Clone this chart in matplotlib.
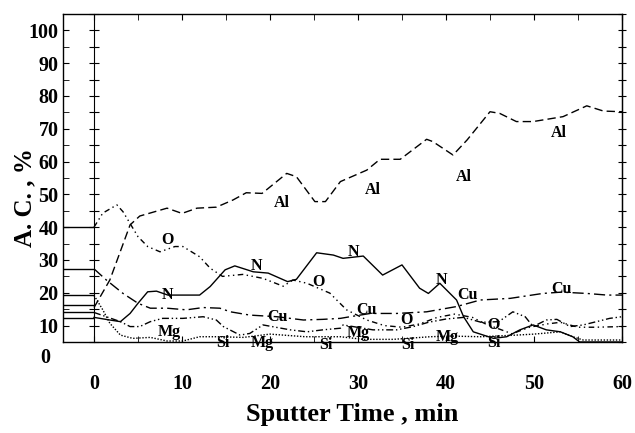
import matplotlib
matplotlib.use("Agg")
import matplotlib.pyplot as plt
from matplotlib.ticker import MultipleLocator

# depth profile, atomic concentration (%) vs sputter time (min)
al_t = [0, 1.8, 4.1, 5.2, 8.3, 10, 11.7, 13.9, 15.8, 17.3, 19.1, 21.9, 23,
        25.1, 26.3, 28, 31, 32.5, 34.8, 37.8, 38.5, 40.8, 42.4, 45, 46.1,
        48, 49.9, 53.3, 56, 57.9, 60]
al_v = [15.5, 23.9, 40.7, 43.4, 45.8, 44.2, 45.8, 46.1, 48.3, 50.5, 50.3,
        56.4, 55.4, 47.8, 47.8, 53.9, 57.4, 60.7, 60.7, 66.8, 66.1, 62,
        66.6, 75.2, 74.7, 72.2, 72.2, 73.7, 77, 75.4, 75.2]

o_t = [0, 1, 2.6, 3.3, 5, 6.1, 7.5, 9.2, 10.1, 12, 13.2, 14.6, 16.9, 19.2,
       21.5, 22.6, 24.2, 26.8, 28.7, 31, 33, 35, 37, 39, 41, 43, 44.5, 46,
       47.5, 49.5, 51.5, 53, 55, 57, 60]
o_v = [40, 44.3, 46.8, 44.7, 37.1, 34.1, 32.5, 34.1, 34.1, 31, 27.5, 25,
       25.6, 24.4, 22, 23.9, 22.9, 19.9, 14.8, 11.7, 10, 9.5, 10.5, 12.5,
       13.5, 12.5, 10.5, 9, 7.5, 9.5, 10.5, 11, 9.5, 9.5, 9.7]

n_t = [0, 1.8, 3, 4.1, 5, 6.1, 7.1, 8.4, 10.1, 12, 13.2, 14.9, 16, 18.1,
       19.8, 22, 23, 25.3, 27.2, 28.3, 30.6, 32.8, 35, 37, 38, 39.3, 41.2,
       42, 43.1, 45.4, 46.9, 48.4, 49.9, 51.4, 53, 54.4, 55.2, 60]
n_v = [12.5, 11.7, 11.2, 13.7, 16.8, 20.3, 20.5, 19.3, 19.3, 19.3, 21.9,
       27, 28.2, 26.4, 26, 23.4, 24.1, 32.2, 31.5, 30.5, 31.2, 25.4, 28.5,
       21.4, 19.8, 22.9, 17.8, 12.7, 8.1, 6.1, 6.6, 8.7, 10.2, 8.7, 8.1,
       6.6, 5, 5]

cu_t = [0, 1.4, 3.3, 5, 6.4, 8.3, 10.5, 12.4, 14.3, 15.5, 17.7, 20.8,
        23.8, 26, 28, 29.1, 31.4, 34.4, 37.8, 41.2, 43.9, 47.3, 51, 53.1,
        56, 58.3, 60]
cu_v = [27.3, 23.9, 19.8, 16.8, 15.3, 15.3, 14.8, 15.5, 15.3, 14.2, 13.2,
        12.7, 11.7, 11.9, 12.2, 12.7, 13.7, 13.7, 14.2, 15.8, 17.8, 18.3,
        19.8, 20.2, 19.8, 19.3, 19.3]

mg_t = [0, 1.4, 3, 4.1, 5.2, 6.4, 7.8, 10.1, 12.4, 13.9, 14.7, 16.6, 17.7,
        19.2, 22.3, 24.2, 26, 28, 28.3, 31.7, 34.4, 36.3, 38, 40, 42, 44,
        46, 47.6, 49, 49.9, 51.4, 52.6, 54.1, 55.6, 57.1, 58.6, 60]
mg_v = [14, 12.7, 11.2, 9.7, 9.7, 11.2, 12.2, 12.2, 12.7, 11.7, 9.7, 7.1,
        7.6, 10.2, 8.7, 8.1, 8.7, 9.2, 10.2, 8.7, 8.7, 9.7, 11, 12, 12.5,
        11, 11.2, 14.2, 12.7, 9.7, 11.7, 11.9, 9.7, 10.2, 11.2, 12.2, 12.7]

si_t = [0, 1, 1.8, 3, 4.4, 6.4, 8.3, 10.1, 12, 14, 17, 20, 24, 28, 30.6,
        34, 38.2, 40.5, 44, 48, 50, 53, 54.4, 55.6, 60]
si_v = [19.2, 14.8, 10.7, 7.1, 6.1, 6.4, 5.3, 5.3, 6.6, 6.6, 6.4, 7.4, 6.6,
        6.6, 5.8, 5.8, 6.6, 6.8, 6.6, 7.1, 7.4, 8.1, 6.6, 5.6, 5.6]

# surface levels drawn left of t = 0
initial = [40, 27.3, 19.2, 16.3, 14.0, 12.2]

label_text = ["Al", "Al", "Al", "Al", "O", "O", "O", "O", "N", "N", "N", "N",
              "Cu", "Cu", "Cu", "Cu", "Mg", "Mg", "Mg", "Mg",
              "Si", "Si", "Si", "Si"]
label_x = [21.3, 31.7, 42.0, 52.8, 8.4, 25.5, 35.5, 45.4, 8.4, 18.5, 29.5,
           39.5, 20.9, 31.0, 42.5, 53.1, 8.6, 19.1, 30.0, 40.1,
           14.7, 26.3, 35.7, 45.4]
label_y = [47.3, 51.3, 55.4, 68.6, 36.1, 23.4, 11.7, 10.2, 19.3, 28.2, 32.5,
           23.9, 12.7, 14.9, 19.3, 21.3, 8.1, 4.6, 7.6, 6.6,
           4.6, 4.1, 4.1, 4.6]

xmin = -3.56

plt.rcParams['font.family'] = ['Liberation Serif', 'DejaVu Serif']
plt.rcParams['font.weight'] = 'bold'

fig = plt.figure(figsize=(6.35, 4.33), dpi=100)
ax = fig.add_axes([0.0987, 0.2102, 0.8808, 0.7575])

lw = 1.0
ax.plot(al_t, al_v, color="black", lw=lw, dashes=(6, 3))
ax.plot(o_t, o_v, color="black", lw=lw, dashes=(4, 2.5, 1, 2.5, 1, 2.5))
ax.plot(n_t, n_v, color="black", lw=lw)
ax.plot(cu_t, cu_v, color="black", lw=lw, dashes=(8, 3, 1.5, 3))
ax.plot(mg_t, mg_v, color="black", lw=lw, dashes=(5, 2, 1, 2, 1, 2))
ax.plot(si_t, si_v, color="black", lw=lw, dashes=(1, 1.2))
ax.hlines(initial, xmin, 0, color="black", lw=lw)

for txt, x, y in zip(label_text, label_x, label_y):
    ax.text(x, y, txt, ha="center", va="center", fontsize=11.5,
            fontweight="bold", clip_on=False)

ax.set_xlim(xmin, 60)
ax.set_ylim(5, 105)

ax.set_xticks(range(0, 61, 10))
ax.xaxis.set_minor_locator(MultipleLocator(5))
ax.set_yticks(range(10, 101, 10))
ax.yaxis.set_minor_locator(MultipleLocator(5))
ax.tick_params(axis="x", which="both", direction="in", length=4, top=True,
               labelsize=14.5, pad=23)
ax.tick_params(axis="y", which="both", direction="in", length=4, right=False,
               labelsize=14.5, pad=3)

# t = 0 line with crossing ticks
zero_ax = ax.secondary_yaxis(-xmin / (60 - xmin))
zero_ax.yaxis.set_major_locator(MultipleLocator(5))
zero_ax.tick_params(direction="inout", length=7, labelleft=False)

right_ax = ax.secondary_yaxis("right")
right_ax.yaxis.set_major_locator(MultipleLocator(5))
right_ax.tick_params(direction="inout", length=6, labelright=False)

for sp in ax.spines.values():
    sp.set_linewidth(1.0)

ax.text(-0.032, 0, "0", transform=ax.get_yaxis_transform(), ha="center",
        va="center", fontsize=14.5, fontweight="bold", clip_on=False)

fig.text(352 / 635, 1 - 415 / 433, "Sputter Time , min", ha="center",
         va="center", fontsize=19, fontweight="bold")
fig.text(25 / 635, 1 - 198 / 433, "A. C. , %", ha="center", va="center",
         rotation=90, fontsize=18, fontweight="bold")

fig.savefig("out.png", dpi=100)
